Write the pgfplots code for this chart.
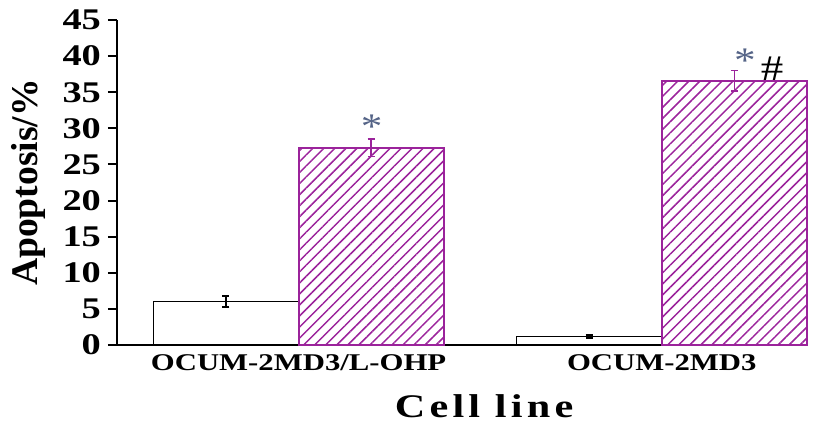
\documentclass[border=0pt]{standalone}
\usepackage{fontspec}
\setmainfont{Liberation Serif}
\newfontfamily\spaced[LetterSpace=10]{Liberation Serif}
\usepackage{graphicx}
\usepackage{pgfplots}
\pgfplotsset{compat=1.18}
\usetikzlibrary{patterns.meta}
\definecolor{hatch}{RGB}{155,35,155}
\definecolor{star}{RGB}{85,100,135}

\begin{document}
\begin{tikzpicture}
\begin{axis}[
  scale only axis, width=345pt, height=162.5pt,
  xmin=-0.5, xmax=1.4, ymin=0, ymax=45,
  axis x line*=bottom, axis y line*=left,
  axis line style={line width=1pt},
  xtick={0,1},
  xticklabels={\scalebox{1.28}[1]{OCUM-2MD3/L-OHP}, \scalebox{1.28}[1]{OCUM-2MD3}},
  xtick style={draw=none},
  xticklabel style={font=\fontsize{12}{12}\selectfont\bfseries, yshift=3pt},
  ytick={0,5,...,45},
  ytick style={line width=1pt, black},
  tick align=outside, major tick length=4.5pt,
  /pgf/number format/assume math mode=true,
  yticklabel={\scalebox{1.28}[1]{\pgfmathprintnumber{\tick}}},
  yticklabel style={font=\fontsize{15}{15}\selectfont\bfseries},
  ylabel={Apoptosis/\%},
  every axis y label/.style={at={(axis description cs:0,0.5)}, xshift=-44.5pt, rotate=90, anchor=center, font=\fontsize{18.8}{18.8}\selectfont\bfseries},
  xlabel={\scalebox{1.28}[1]{\spaced\bfseries Cell line}},
  every axis x label/.style={at={(axis description cs:0.532,0)}, anchor=base, yshift=-36pt, font=\fontsize{16.5}{16.5}\selectfont},
  clip=false,
]
\addplot[ybar, bar width=0.4, bar shift=0pt, draw=black, line width=0.75pt, fill=white,
  error bars/.cd, y dir=both, y explicit,
  error bar style={black, line width=0.8pt},
  error mark options={rotate=90, mark size=1.75pt, black, line width=0.8pt}]
  coordinates {(-0.2,6.0) +- (0,0.75) (0.8,1.15) +- (0,0.2)};
\addplot[ybar, bar width=0.4, bar shift=0pt, draw=hatch, line width=1pt,
  pattern={Lines[angle=45, distance=3.9pt, line width=0.75pt]}, pattern color=hatch,
  error bars/.cd, y dir=both, y explicit,
  error bar style={hatch, line width=0.8pt},
  error mark options={rotate=90, mark size=1.75pt, hatch, line width=0.8pt}]
  coordinates {(0.2,27.3) +- (0,1.2) (1.2,36.6) +- (0,1.4)};
\node[text=star, font=\fontsize{18}{18}\selectfont, inner sep=0pt] at (axis cs:0.201,30.25) {\scalebox{1.2}[1]{*}};
\node[text=star, font=\fontsize{18}{18}\selectfont, inner sep=0pt] at (axis cs:1.229,39.4) {\scalebox{1.2}[1]{*}};
\node[text=black, font=\fontsize{18}{18}\selectfont, inner sep=0pt] at (axis cs:1.304,38.2) {\scalebox{1.25}[1]{\#}};
\coordinate (sw) at (rel axis cs:0,0);
\coordinate (ne) at (rel axis cs:1,1);
\end{axis}
\pgfresetboundingbox
\useasboundingbox ([shift={(-58.5pt,-41.5pt)}]sw) rectangle ([shift={(15pt,10pt)}]ne);
\end{tikzpicture}
\end{document}
